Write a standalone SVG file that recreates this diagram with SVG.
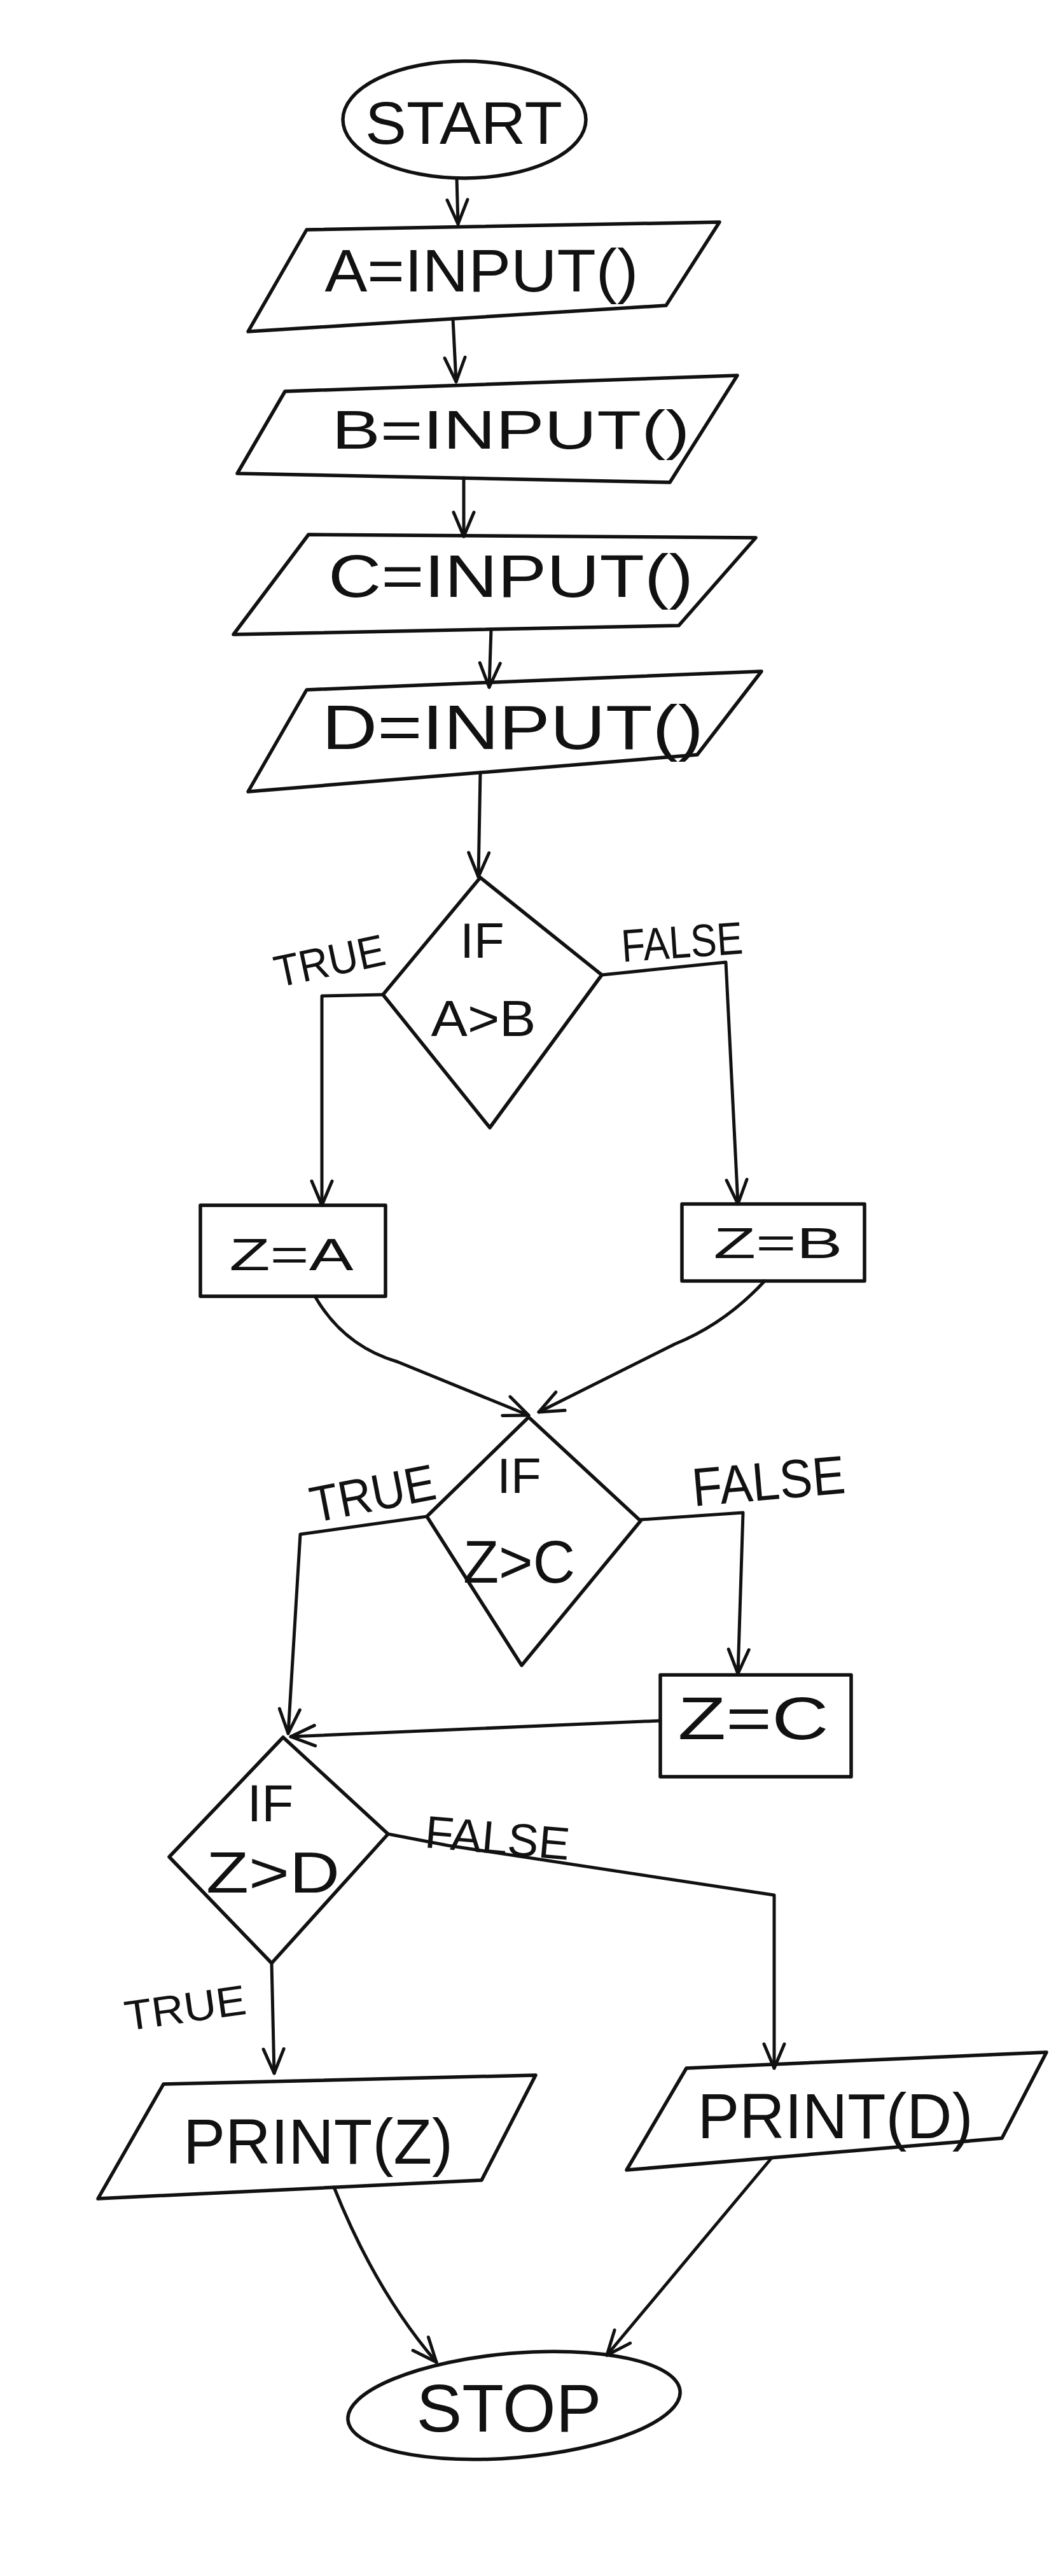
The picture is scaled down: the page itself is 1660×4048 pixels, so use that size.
<svg xmlns="http://www.w3.org/2000/svg" width="1660" height="4048" viewBox="0 0 1660 4048">
<defs>
<marker id="arr" viewBox="0 0 44 44" refX="41" refY="22" markerWidth="44" markerHeight="44" markerUnits="userSpaceOnUse" orient="auto">
<path d="M3,6 L41,22 L3,38" fill="none" stroke="#111" stroke-width="5" stroke-linecap="round" stroke-linejoin="round"/>
</marker>
</defs>
<style>
.shape{fill:none;stroke:#111;stroke-width:5.5;stroke-linejoin:round;stroke-linecap:round}
.conn{fill:none;stroke:#111;stroke-width:5;stroke-linejoin:round;stroke-linecap:round}
.t{font-family:"Liberation Sans","DejaVu Sans",sans-serif;fill:#111;text-anchor:middle;dominant-baseline:central}
</style>
<rect x="0" y="0" width="1660" height="4048" fill="#ffffff"/>

<g id="connectors">
<path class="conn" d="M718,280 L720,352" marker-end="url(#arr)"/>
<path class="conn" d="M712,501 L717,600" marker-end="url(#arr)"/>
<path class="conn" d="M729,751 L729,843" marker-end="url(#arr)"/>
<path class="conn" d="M772,989 L769,1080" marker-end="url(#arr)"/>
<path class="conn" d="M755,1214 L752,1378" marker-end="url(#arr)"/>
<path class="conn" d="M602,1563 L506,1565 L506,1894" marker-end="url(#arr)"/>
<path class="conn" d="M946,1532 L1141,1512 L1160,1892" marker-end="url(#arr)"/>
<path class="conn" d="M495,2037 Q540,2115 625,2140 L831,2224" marker-end="url(#arr)"/>
<path class="conn" d="M1202,2013 Q1140,2080 1061,2112 L847,2219" marker-end="url(#arr)"/>
<path class="conn" d="M671,2383 L472,2411 L453,2724" marker-end="url(#arr)"/>
<path class="conn" d="M1007,2388 L1168,2377 L1160,2630" marker-end="url(#arr)"/>
<path class="conn" d="M1038,2704 L457,2729" marker-end="url(#arr)"/>
<path class="conn" d="M610,2882 L704,2900 L1217,2978 L1217,3250" marker-end="url(#arr)"/>
<path class="conn" d="M427,3085 L431,3258" marker-end="url(#arr)"/>
<path class="conn" d="M525,3437 Q590,3600 686,3712" marker-end="url(#arr)"/>
<path class="conn" d="M1213,3391 L954,3701" marker-end="url(#arr)"/>
</g>

<g id="start">
<ellipse class="shape" cx="730" cy="188" rx="191" ry="92"/>
<text class="t" x="729" y="193" font-size="95" textLength="310" lengthAdjust="spacingAndGlyphs">START</text>
</g>

<g id="inputA">
<polygon class="shape" points="482,361 1131,349 1047,480 390,521"/>
<text class="t" x="757" y="425" font-size="95" textLength="493" lengthAdjust="spacingAndGlyphs">A=INPUT()</text>
</g>

<g id="inputB">
<polygon class="shape" points="448,615 1159,590 1053,758 373,744"/>
<text class="t" x="803" y="675" font-size="85" textLength="563" lengthAdjust="spacingAndGlyphs">B=INPUT()</text>
</g>

<g id="inputC">
<polygon class="shape" points="485,840 1188,845 1067,983 367,997"/>
<text class="t" x="803" y="905" font-size="95" textLength="574" lengthAdjust="spacingAndGlyphs">C=INPUT()</text>
</g>

<g id="inputD">
<polygon class="shape" points="482,1084 1197,1055 1096,1186 390,1244"/>
<text class="t" x="806" y="1143" font-size="98" textLength="600" lengthAdjust="spacingAndGlyphs">D=INPUT()</text>
</g>

<g id="decision1">
<polygon class="shape" points="755,1379 946,1532 770,1772 602,1563"/>
<text class="t" x="758" y="1478" font-size="78">IF</text>
<text class="t" x="760" y="1600" font-size="80" textLength="165" lengthAdjust="spacingAndGlyphs">A&gt;B</text>
</g>
<text class="t" x="518" y="1510" font-size="70" textLength="176" lengthAdjust="spacingAndGlyphs" transform="rotate(-12 518 1510)">TRUE</text>
<text class="t" x="1072" y="1480" font-size="72" textLength="191" lengthAdjust="spacingAndGlyphs" transform="rotate(-4 1072 1480)">FALSE</text>

<g id="assignZA">
<rect class="shape" x="315" y="1894" width="291" height="143"/>
<text class="t" x="458" y="1972" font-size="70" textLength="195" lengthAdjust="spacingAndGlyphs">Z=A</text>
</g>

<g id="assignZB">
<rect class="shape" x="1072" y="1892" width="287" height="121"/>
<text class="t" x="1223" y="1953" font-size="68" textLength="203" lengthAdjust="spacingAndGlyphs">Z=B</text>
</g>

<g id="decision2">
<polygon class="shape" points="831,2227 1007,2390 820,2617 671,2383"/>
<text class="t" x="816" y="2319" font-size="78">IF</text>
<text class="t" x="816" y="2454" font-size="95" textLength="176" lengthAdjust="spacingAndGlyphs">Z&gt;C</text>
</g>
<text class="t" x="586" y="2347" font-size="80" textLength="199" lengthAdjust="spacingAndGlyphs" transform="rotate(-11 586 2347)">TRUE</text>
<text class="t" x="1208" y="2327" font-size="85" textLength="241" lengthAdjust="spacingAndGlyphs" transform="rotate(-5 1208 2327)">FALSE</text>

<g id="assignZC">
<rect class="shape" x="1038" y="2632" width="300" height="160"/>
<text class="t" x="1184" y="2700" font-size="95" textLength="237" lengthAdjust="spacingAndGlyphs">Z=C</text>
</g>

<g id="decision3">
<polygon class="shape" points="445,2730 610,2882 427,3085 266,2918"/>
<text class="t" x="425" y="2833" font-size="82">IF</text>
<text class="t" x="429" y="2943" font-size="90" textLength="210" lengthAdjust="spacingAndGlyphs">Z&gt;D</text>
</g>
<text class="t" x="782" y="2888" font-size="72" textLength="228" lengthAdjust="spacingAndGlyphs" transform="rotate(5 782 2888)">FALSE</text>
<text class="t" x="291" y="3155" font-size="66" textLength="192" lengthAdjust="spacingAndGlyphs" transform="rotate(-8 291 3155)">TRUE</text>

<g id="printZ">
<polygon class="shape" points="257,3275 842,3261 757,3426 154,3455"/>
<text class="t" x="500" y="3365" font-size="100" textLength="424" lengthAdjust="spacingAndGlyphs">PRINT(Z)</text>
</g>

<g id="printD">
<polygon class="shape" points="1079,3250 1645,3225 1575,3360 985,3410"/>
<text class="t" x="1313" y="3325" font-size="100" textLength="433" lengthAdjust="spacingAndGlyphs">PRINT(D)</text>
</g>

<g id="stop">
<ellipse class="shape" cx="808" cy="3780" rx="262" ry="82" transform="rotate(-5 808 3780)"/>
<text class="t" x="800" y="3784" font-size="105" textLength="291" lengthAdjust="spacingAndGlyphs">STOP</text>
</g>
</svg>
